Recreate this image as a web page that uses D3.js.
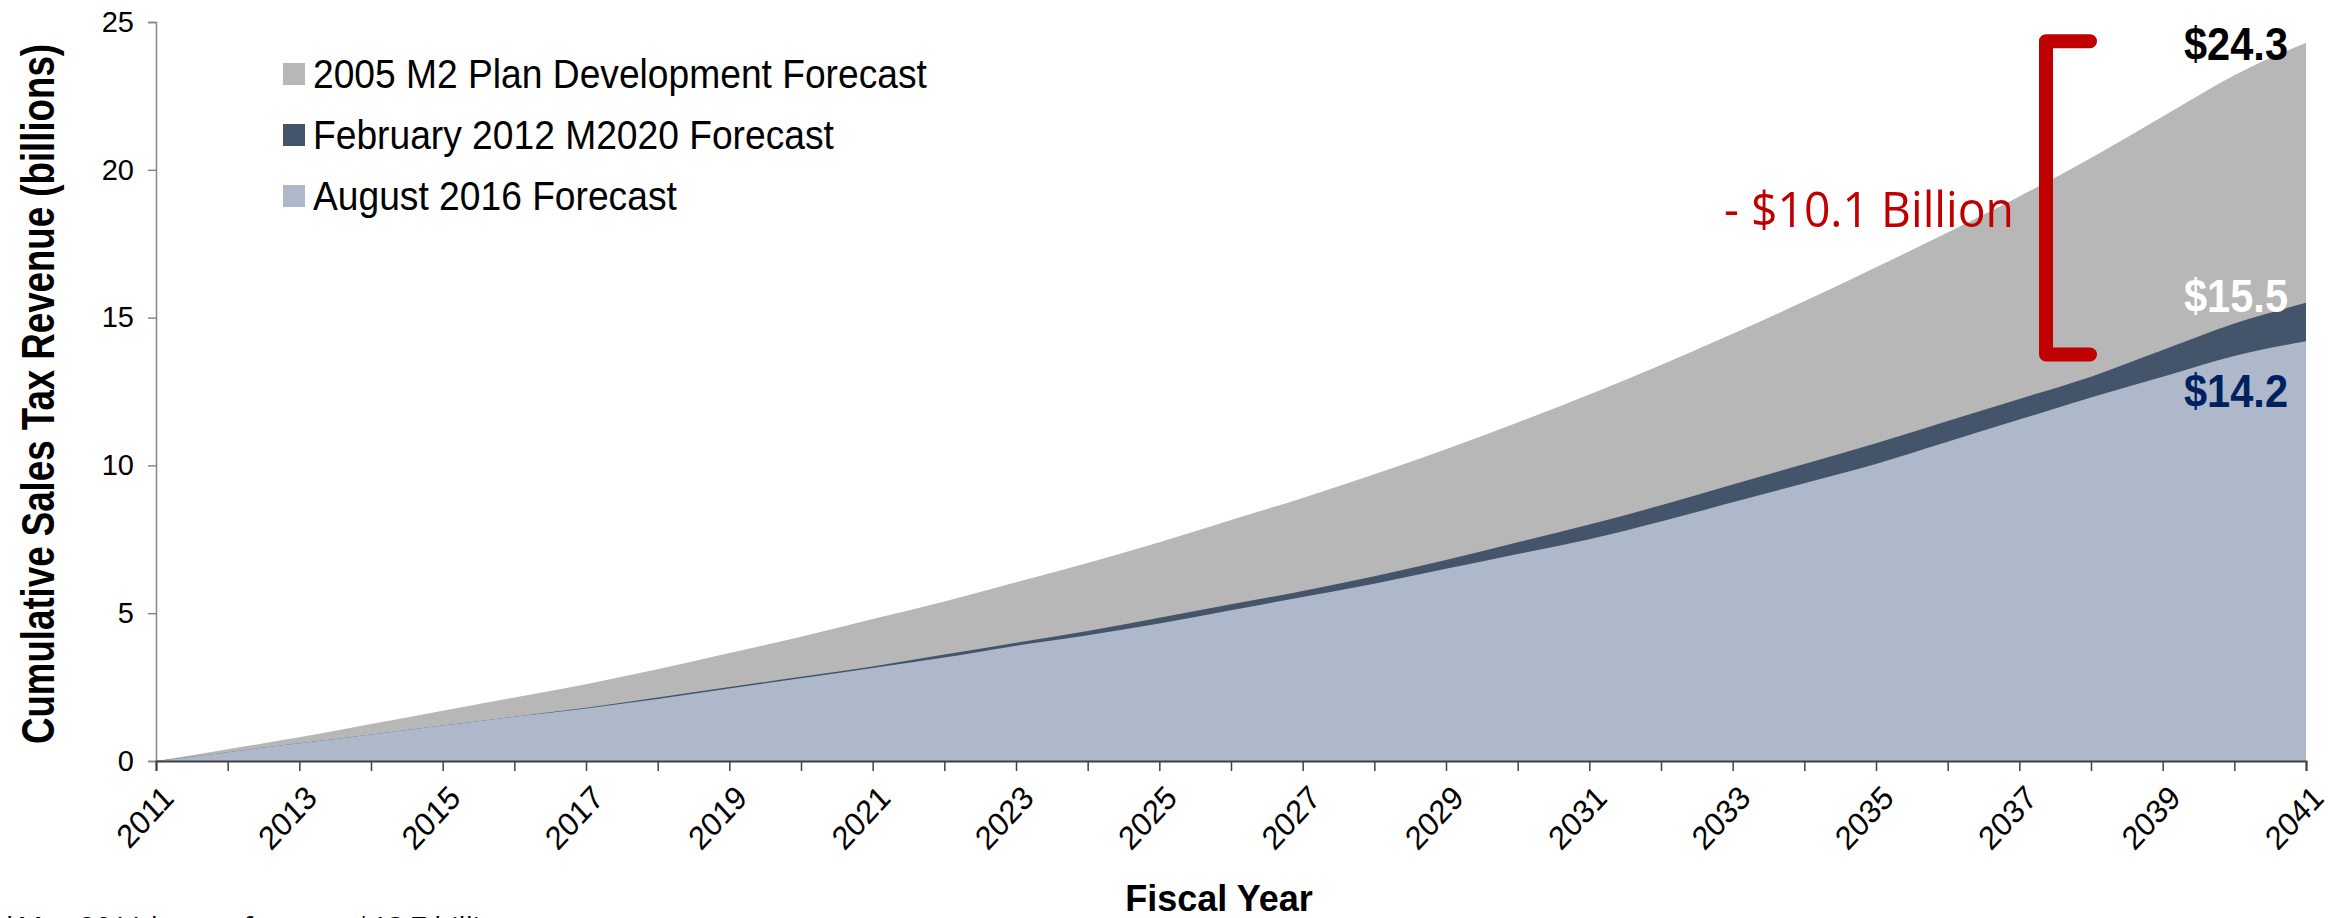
<!DOCTYPE html>
<html><head><meta charset="utf-8">
<script src="https://cdn.jsdelivr.net/npm/d3@7/dist/d3.min.js"></script>
<style>html,body{margin:0;padding:0;background:#fff;overflow:hidden}</style>
</head><body>
<svg id="chart" width="2330" height="918"></svg>
<script>
const years = d3.range(2011, 2042);
const plan2005 = [0,0.4,0.8,1.25,1.7,2.15,2.6,3.1,3.65,4.2,4.8,5.4,6.05,6.7,7.4,8.15,8.9,9.7,10.55,11.45,12.4,13.4,14.45,15.55,16.7,17.88,19.1,20.4,21.8,23.2,24.3];
const feb2012 = [0,0.3,0.6,0.9,1.2,1.5,1.8,2.15,2.5,2.85,3.2,3.6,4.0,4.4,4.85,5.3,5.75,6.25,6.8,7.4,8.0,8.65,9.35,10.05,10.75,11.5,12.25,13.0,13.9,14.8,15.5];
const aug2016 = [0,0.3,0.6,0.9,1.2,1.5,1.78,2.1,2.45,2.8,3.15,3.5,3.9,4.25,4.65,5.1,5.55,6.0,6.5,7.0,7.5,8.1,8.75,9.4,10.05,10.8,11.55,12.3,13.0,13.7,14.2];
const seriesNames = ["2005 M2 Plan Development Forecast","February 2012 M2020 Forecast","August 2016 Forecast"];
const seriesColors = ["#B7B7B7","#44546A","#ADB9CA"];
const yTicks = [0,5,10,15,20,25];
const xTickLabels = d3.range(2011, 2042, 2);
const endLabels = ["$24.3","$15.5","$14.2"];
const endLabelColors = ["#000000","#FFFFFF","#002060"];

(function(){
const svg = d3.select("#chart");
const mLeft = 156, mRight = 2306, mTop = 22, mBottom = 761;
const x = d3.scaleLinear().domain([2011, 2041]).range([mLeft, mRight]);
const y = d3.scaleLinear().domain([0, 25]).range([mBottom, mTop]);
const ARIAL = "Liberation Sans, Arial, sans-serif";

const allSeries = [plan2005, feb2012, aug2016];
const area = d3.area().x((d,i)=>x(years[i])).y0(y(0)).y1(d=>y(d)).curve(d3.curveMonotoneX);
svg.selectAll("path.area").data(allSeries).enter().append("path")
  .attr("class","area").attr("d", area).attr("fill",(d,i)=>seriesColors[i]);

const yAxis = svg.append("g").attr("transform",`translate(${mLeft},0)`)
  .call(d3.axisLeft(y).tickValues(yTicks).tickSize(8).tickPadding(14));
yAxis.select(".domain").attr("stroke","#868686").attr("stroke-width",1.5);
yAxis.selectAll(".tick line").attr("stroke","#868686").attr("stroke-width",1.5);
yAxis.selectAll("text").attr("font-family",ARIAL).attr("font-size",29).attr("fill","#000");

const xAxis = svg.append("g").attr("transform",`translate(0,${mBottom})`)
  .call(d3.axisBottom(x).tickValues(years).tickSize(10).tickFormat(""));
xAxis.select(".domain").attr("stroke","#404040").attr("stroke-width",2);
xAxis.selectAll(".tick line").attr("stroke","#404040").attr("stroke-width",1.5);
svg.append("g").selectAll("text").data(xTickLabels).enter().append("text")
  .attr("transform",d=>`translate(${x(d)+4},${mBottom+22}) scale(0.92,1) rotate(-45)`)
  .attr("text-anchor","end").attr("dy","0.72em")
  .attr("font-family",ARIAL).attr("font-size",33)
  .text(d=>d);

const yTitle = svg.append("text").attr("transform",`translate(54,394) rotate(-90) scale(1,1.44)`)
  .attr("text-anchor","middle")
  .attr("font-family",ARIAL)
  .attr("font-weight","bold").attr("font-size",32)
  .text("Cumulative Sales Tax Revenue  (billions)");
const tl = yTitle.node().getComputedTextLength();
yTitle.attr("transform",`translate(54,394) rotate(-90) scale(${700/tl},1.44)`);

svg.append("text").attr("x",1219).attr("y",911).attr("text-anchor","middle")
  .attr("font-family",ARIAL).attr("font-weight","bold").attr("font-size",36)
  .text("Fiscal Year");

svg.append("text").attr("x",2).attr("y",937)
  .attr("font-family","Open Sans, Liberation Sans, sans-serif").attr("font-size",28)
  .text("*May 2011 lowest forecast $13.7 billion");

const lg = svg.append("g");
seriesNames.forEach((n,i)=>{
  const cy = 74 + i*61;
  lg.append("rect").attr("x",283).attr("y",cy-11).attr("width",22).attr("height",22).attr("fill",seriesColors[i]);
  lg.append("text").attr("transform",`translate(313,${cy}) scale(0.93,1)`).attr("dy","0.36em")
    .attr("font-family",ARIAL).attr("font-size",40).text(n);
});

const bx0 = 2046, bx1 = 2090, by0 = y(24.35), by1 = y(13.75);
svg.append("path")
  .attr("d",`M${bx1},${by0} L${bx0},${by0} L${bx0},${by1} L${bx1},${by1}`)
  .attr("fill","none").attr("stroke","#C00000").attr("stroke-width",14)
  .attr("stroke-linejoin","round").attr("stroke-linecap","round");
svg.append("text").attr("x",2014).attr("y",227).attr("text-anchor","end")
  .attr("font-family","Open Sans, Liberation Sans, sans-serif").attr("font-size",50).attr("fill","#C00000")
  .attr("textLength",290).attr("lengthAdjust","spacingAndGlyphs")
  .text("- $10.1 Billion");

const endY = [43, 295, 390];
endLabels.forEach((t,i)=>{
  svg.append("text").attr("x",2288).attr("y",endY[i]).attr("dy","0.36em").attr("text-anchor","end")
    .attr("font-family",ARIAL)
    .attr("font-weight","bold").attr("font-size",47).attr("fill",endLabelColors[i])
    .attr("textLength",104).attr("lengthAdjust","spacingAndGlyphs").text(t);
});
})();
</script>
</body></html>
